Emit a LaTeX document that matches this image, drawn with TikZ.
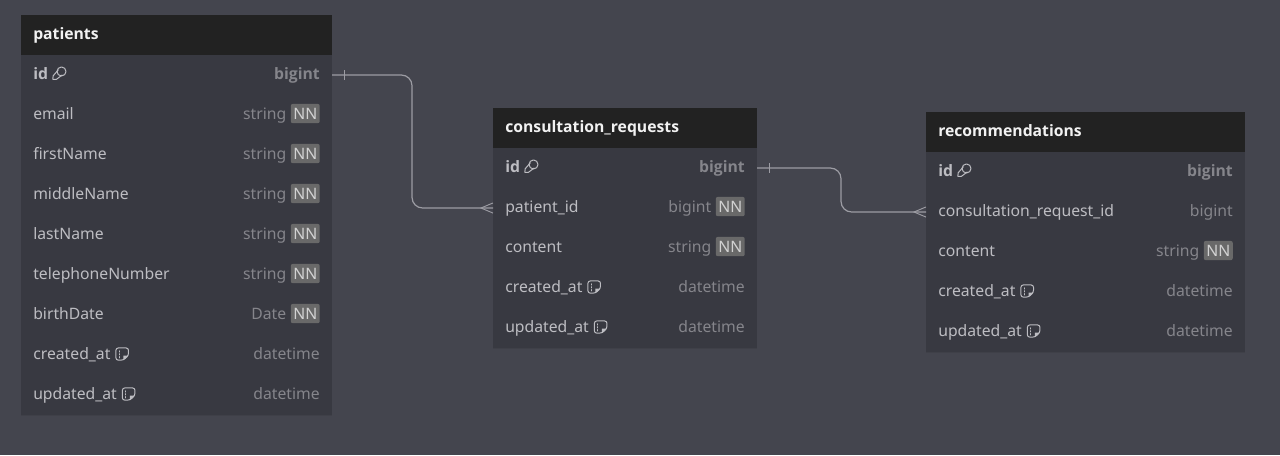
\documentclass[tikz,border=0pt]{standalone}
\usepackage{fontspec}
\setmainfont{Noto Sans}
\newfontfamily\heavyfam{Open Sans}
\definecolor{canvas}{HTML}{44454E}
\definecolor{rowfill}{HTML}{383941}
\definecolor{headfill}{HTML}{222222}
\definecolor{sepline}{HTML}{3F4048}
\definecolor{titletext}{HTML}{F2F2F2}
\definecolor{fieldtext}{HTML}{BDBDC2}
\definecolor{typetext}{HTML}{85858B}
\definecolor{badgefill}{HTML}{696969}
\definecolor{badgetext}{HTML}{D2D2D2}
\definecolor{linkline}{HTML}{9C9CA3}
\newcommand{\bodyfont}{\fontsize{11.8}{14}\selectfont}
\newcommand{\heavyfont}{\heavyfam\bfseries\fontsize{11.8}{14}\selectfont}
\tikzset{
  headbox/.style={anchor=north west,fill=headfill,inner sep=0pt,minimum height=30pt,outer sep=0pt},
  rowbox/.style={anchor=north west,fill=rowfill,inner sep=0pt,minimum height=30pt,outer sep=0pt},
  textbox/.style={inner sep=0pt,text height=9.8pt,text depth=3pt},
  titlelabel/.style={textbox,anchor=west,text=titletext,font=\heavyfont},
  fieldlabel/.style={textbox,anchor=west,text=fieldtext,font=\bodyfont},
  keylabel/.style={textbox,anchor=west,text=fieldtext,font=\heavyfont},
  typelabel/.style={textbox,anchor=east,text=typetext,font=\bodyfont},
  keytype/.style={textbox,anchor=east,text=typetext,font=\heavyfont},
  badge/.style={anchor=east,fill=badgefill,text=badgetext,rounded corners=1.5pt,inner sep=0pt,minimum width=21.7pt,minimum height=14.5pt,font=\bodyfont},
  link/.style={draw=linkline,line width=0.9pt,rounded corners=8pt},
  linkmark/.style={draw=linkline,line width=0.7pt},
  iconline/.style={draw=fieldtext,line width=0.75pt,line join=round,line cap=round},
}
% #1 name, #2 x, #3 y, #4 w, #5 title
\newcommand{\tablehead}[5]{%
  \node[headbox,minimum width=#4*0.75pt] (#1) at (#2,#3) {};
  \node[titlelabel] (#1-title) at ([xshift=9pt]#1.west) {#5};
}
% #1 name, #2 x, #3 y, #4 w
\newcommand{\rowbg}[4]{%
  \node[rowbox,minimum width=#4*0.75pt] (#1) at (#2,#3) {};
  \draw[sepline,line width=0.6pt] (#1.south west) -- (#1.south east);
}
% #1 name, #2 label, #3 type, #4 x y w
\newcommand{\nnrow}[6]{%
  \rowbg{#1}{#4}{#5}{#6}
  \node[fieldlabel] (#1-label) at ([xshift=9pt]#1.west) {#2};
  \node[badge] (#1-nn) at ([xshift=-9pt,yshift=1.1pt]#1.east) {NN};
  \node[typelabel] (#1-type) at ([xshift=-3pt,yshift=-1.1pt]#1-nn.west) {#3};
}
\newcommand{\plainrow}[6]{%
  \rowbg{#1}{#4}{#5}{#6}
  \node[fieldlabel] (#1-label) at ([xshift=9pt]#1.west) {#2};
  \node[typelabel] (#1-type) at ([xshift=-9pt]#1.east) {#3};
}
\newcommand{\idrow}[4]{%
  \rowbg{#1}{#2}{#3}{#4}
  \node[keylabel] (#1-label) at ([xshift=9pt]#1.west) {id};
  \node[keytype] (#1-type) at ([xshift=-9pt]#1.east) {bigint};
  \begin{scope}[shift={([xshift=3pt,yshift=1pt]#1-label.east)},x=0.75pt,y=-0.75pt]
    \draw[iconline] (6,-3.8) -- (0.8,2.2) -- (0.6,5.6) -- (4.2,5.6) -- (9.8,1.4);
    \draw[iconline] (9.2,-2.2) circle[radius=4.5];
  \end{scope}
}
\newcommand{\noterow}[6]{%
  \plainrow{#1}{#2}{#3}{#4}{#5}{#6}
  \begin{scope}[shift={([xshift=3.9pt,yshift=0.8pt]#1-label.east)},x=0.75pt,y=-0.75pt]
    \draw[iconline,rounded corners=1.8pt] (0,-6) -- (12.6,-6) -- (12.6,1.5) -- (7.5,6.2) -- (0,6.2) -- cycle;
    \fill[fieldtext] (7.6,6.2) -- (7.6,1.6) -- (12.6,1.6) -- cycle;
    \draw[iconline,line width=0.6pt,dash pattern=on 1pt off 1.2pt] (3.2,-3.2) -- (3.2,4);
  \end{scope}
}
\begin{document}
\begin{tikzpicture}[x=0.75pt,y=-0.75pt]
\useasboundingbox (0,0) rectangle (1280,455);
\fill[canvas] (0,0) rectangle (1280,455);

\tablehead{pt}{21}{15}{311}{patients}
\idrow{pt-id}{21}{55}{311}
\nnrow{pt-email}{email}{string}{21}{95}{311}
\nnrow{pt-first}{firstName}{string}{21}{135}{311}
\nnrow{pt-middle}{middleName}{string}{21}{175}{311}
\nnrow{pt-last}{lastName}{string}{21}{215}{311}
\nnrow{pt-tel}{telephoneNumber}{string}{21}{255}{311}
\nnrow{pt-birth}{birthDate}{Date}{21}{295}{311}
\noterow{pt-created}{created\_at}{datetime}{21}{335}{311}
\noterow{pt-updated}{updated\_at}{datetime}{21}{375}{311}

\tablehead{cr}{493}{108}{264}{consultation\_requests}
\idrow{cr-id}{493}{148}{264}
\nnrow{cr-patient}{patient\_id}{bigint}{493}{188}{264}
\nnrow{cr-content}{content}{string}{493}{228}{264}
\noterow{cr-created}{created\_at}{datetime}{493}{268}{264}
\noterow{cr-updated}{updated\_at}{datetime}{493}{308}{264}

\tablehead{rc}{926}{112}{319}{recommendations}
\idrow{rc-id}{926}{152}{319}
\plainrow{rc-request}{consultation\_request\_id}{bigint}{926}{192}{319}
\nnrow{rc-content}{content}{string}{926}{232}{319}
\noterow{rc-created}{created\_at}{datetime}{926}{272}{319}
\noterow{rc-updated}{updated\_at}{datetime}{926}{312}{319}

% connectors
\coordinate (bendA) at (412,75);
\coordinate (bendB) at (841,168);
\draw[link] (pt-id.east) -- (bendA) |- (cr-patient.west);
\draw[link] (cr-id.east) -- (bendB) |- (rc-request.west);

% cardinality marks
\draw[linkmark] ([xshift=9pt,yshift=-3.6pt]pt-id.east) -- ([xshift=9pt,yshift=3.6pt]pt-id.east);
\draw[linkmark] ([xshift=9pt,yshift=-3.6pt]cr-id.east) -- ([xshift=9pt,yshift=3.6pt]cr-id.east);
\draw[linkmark] ([yshift=3.8pt]cr-patient.west) -- ([xshift=-9pt]cr-patient.west) -- ([yshift=-3.8pt]cr-patient.west);
\draw[linkmark] ([yshift=3.8pt]rc-request.west) -- ([xshift=-9pt]rc-request.west) -- ([yshift=-3.8pt]rc-request.west);
\end{tikzpicture}
\end{document}
